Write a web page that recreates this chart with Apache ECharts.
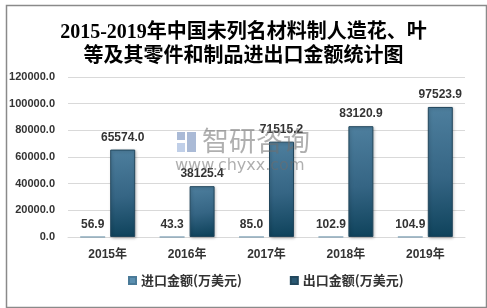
<!DOCTYPE html>
<html><head><meta charset="utf-8">
<script src="https://cdn.jsdelivr.net/npm/echarts@6/dist/echarts.min.js"></script>
<style>html,body{margin:0;padding:0;background:#fff}#c{width:487px;height:308px}</style>
</head><body><div id="c"></div>
<script>
const categories = ['2015年','2016年','2017年','2018年','2019年'];
const importValues = [56.9, 43.3, 85.0, 102.9, 104.9];
const exportValues = [65574.0, 38125.4, 71515.2, 83120.9, 97523.9];
const seriesNames = ['进口金额(万美元)', '出口金额(万美元)'];
const titleText = '2015-2019年中国未列名材料制人造花、叶\n等及其零件和制品进出口金额统计图';

const chart = echarts.init(document.getElementById('c'));
const lbl = {show:true, position:'top', distance:6, color:'#333', fontSize:12, fontWeight:'bold',
  fontFamily:'Liberation Sans, Arial, sans-serif', formatter: p => p.value.toFixed(1)};
chart.setOption({
  animation:false,
  title:{text:titleText, left:'center', top:16,
    textStyle:{fontFamily:'Liberation Serif, Noto Sans CJK SC, serif', fontSize:20, fontWeight:'bold', color:'#000', lineHeight:24}},
  graphic:[
    {type:'rect', left:4, top:3, shape:{width:480, height:302}, style:{fill:'none', stroke:'#8a8a8a', lineWidth:1.5}, silent:true},
    {type:'text', left:202, top:127, z:100, style:{text:'智研咨询', fontSize:27, fontFamily:'Noto Sans CJK SC', fill:'rgba(110,110,110,0.55)'}},
    {type:'rect', left:177, top:132, z:100, shape:{width:8, height:8}, style:{fill:'rgba(100,130,180,0.55)'}},
    {type:'rect', left:187, top:132, z:100, shape:{width:9, height:20}, style:{fill:'rgba(100,130,180,0.55)'}},
    {type:'rect', left:177, top:143, z:100, shape:{width:8, height:9}, style:{fill:'rgba(130,160,210,0.5)'}},
    {type:'text', left:175, top:158, z:100, style:{text:'www.chyxx.com', fontSize:16, fontFamily:'DejaVu Sans', fill:'rgba(110,110,110,0.55)'}}
  ],
  grid:{left:68, right:22, top:77, bottom:71},
  legend:{bottom:16, left:123, itemWidth:7, itemHeight:7, itemGap:48,
    textStyle:{fontSize:13, fontWeight:'bold', color:'#333', fontFamily:'Noto Sans CJK SC'},
    data:[{name:seriesNames[0], icon:'rect', itemStyle:{color:'#5b8fb0'}},
          {name:seriesNames[1], icon:'rect', itemStyle:{color:'#2a5873'}}]},
  xAxis:{type:'category', data:categories,
    axisLine:{show:true, lineStyle:{color:'#d9d9d9'}}, axisTick:{show:false},
    axisLabel:{color:'#333', fontSize:12, fontWeight:'bold', margin:12, fontFamily:'Liberation Sans, Noto Sans CJK SC, sans-serif'}},
  yAxis:{type:'value', min:0, max:120000, interval:20000,
    axisLine:{show:false}, axisTick:{show:false},
    splitLine:{lineStyle:{color:'#d9d9d9'}},
    axisLabel:{color:'#333', fontSize:11, fontWeight:'bold', margin:13, fontFamily:'Liberation Sans, Arial, sans-serif',
      formatter: v => v.toFixed(1)}},
  series:[
    {name:seriesNames[0], type:'bar', data:importValues, barWidth:25, barGap:'20%',
      itemStyle:{color:'#5b8fb0', borderColor:'#4a7a98', borderWidth:0.5}, label:lbl},
    {name:seriesNames[1], type:'bar', data:exportValues, barWidth:25,
      itemStyle:{color:new echarts.graphic.LinearGradient(0,0,0.3,1,[{offset:0,color:'#4e7f9e'},{offset:0.55,color:'#356584'},{offset:1,color:'#0f435c'}]),
        borderColor:'#22475d', borderWidth:1, shadowColor:'rgba(0,0,0,0.25)', shadowBlur:3, shadowOffsetX:1, shadowOffsetY:1}, label:lbl}
  ]
});
</script></body></html>
